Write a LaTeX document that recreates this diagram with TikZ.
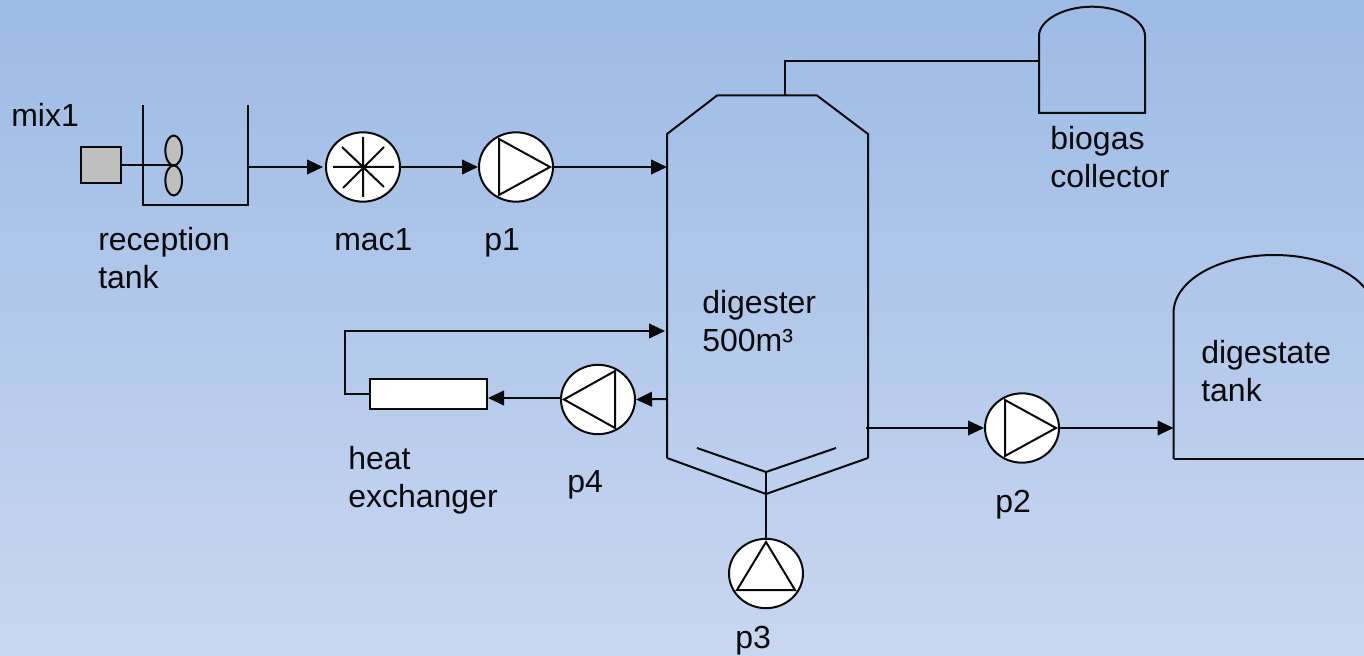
\documentclass[tikz,border=0pt]{standalone}
\usepackage{fontspec}
\setmainfont{Liberation Sans}
\usetikzlibrary{arrows.meta,shapes.geometric}
\definecolor{bgtop}{HTML}{9CBBE5}
\definecolor{bgbot}{HTML}{C9D7F0}
\definecolor{ink}{HTML}{0A0A0A}
\tikzset{
  x=0.75pt,y=-0.75pt,
  line/.style={line width=1.5pt,draw=ink},
  flow/.style={line width=1.5pt,draw=ink,-{Triangle[length=12pt,width=11pt]}},
  pumpbody/.style={ellipse,draw=ink,fill=white,line width=1.5pt,inner sep=0pt,minimum width=55.5pt,minimum height=52pt},
  glyph/.style={line width=1.5pt,draw=ink,line join=miter},
  bladebody/.style={ellipse,draw=ink,fill=black!25,line width=1.5pt,inner sep=0pt,minimum width=12.5pt,minimum height=22.5pt},
  label/.style={anchor=base west,inner sep=0pt,font=\fontsize{24}{28.5}\selectfont,text=ink,align=left,draw=none},
}
\begin{document}
\begin{tikzpicture}
\useasboundingbox (0,0) rectangle (1364,656);
\shade[top color=bgtop,bottom color=bgbot] (0,0) rectangle (1364,656);
\begin{scope}
\clip (0,0) rectangle (1364,656);

% reception tank
\coordinate (tankTL) at (143,105);
\coordinate (tankBL) at (143,205);
\coordinate (tankBR) at (248,205);
\coordinate (tankTR) at (248,105);
\coordinate (tankOut) at (248,167);
\draw[line] (tankTL) -- (tankBL) -- (tankBR) -- (tankTR);
% mixer
\node[draw=ink,fill=black!25,line width=1.5pt,minimum width=29.5pt,minimum height=27pt,inner sep=0pt] (motor) at (101,165.5) {};
\node[bladebody] (bladeA) at (173.7,150.5) {};
\node[bladebody] (bladeB) at (173.7,180.5) {};
\draw[line] (motor.east) -- (motor.east -| bladeA.south);

% macerator
\node[pumpbody] (mac1) at (363,167) {};
\draw[glyph] (333,167) -- (394,167) (363,137) -- (363,197) (342,147) -- (384,187) (384,147) -- (343,188);

% p1
\node[pumpbody] (p1) at (516,167) {};
\draw[glyph] (499,139) -- (499,195) -- (550,167) -- cycle;

% digester
\coordinate (dTop) at (785,95.5);
\coordinate (dIn1) at (667,167);
\coordinate (dIn2) at (667,331);
\coordinate (dOut4) at (667,399);
\coordinate (dOut2) at (866,428);
\coordinate (dBase) at (766,494);
\coordinate (dInner) at (766,472);
\draw[line,line join=miter] (667,458) -- (667,134) -- (717,95.5) -- (817,95.5) -- (868,134) -- (868,458);
\draw[line] (667,458) -- (dBase) -- (868,458);
\draw[line] (697,448) -- (dInner) -- (836,448);

% biogas collector
\coordinate (gasIn) at (1039,61);
\draw[line] (1039,36) .. controls (1039,20.5) and (1063,6.7) .. (1092,6.7) .. controls (1121,6.7) and (1145,20.5) .. (1145,36) -- (1145,113) -- (1039,113) -- cycle;
\coordinate (gasBend) at (785,61);
\draw[line] (dTop) -- (gasBend) -- (gasIn);

% digestate tank
\coordinate (dtIn) at (1173.5,428);
\draw[line] (1173.5,459) -- (1173.5,313) .. controls (1173.5,281) and (1218,255) .. (1274,255) .. controls (1330,255) and (1374.5,281) .. (1374.5,313);
\draw[line] (1173.5,459) -- (1364,459);

% p2
\node[pumpbody] (p2) at (1022,428) {};
\draw[glyph] (1005,400) -- (1005,456) -- (1056,428) -- cycle;

% p3
\node[pumpbody] (p3) at (766,573.5) {};
\draw[glyph] (766,542) -- (795,590) -- (737,590) -- cycle;

% p4
\node[pumpbody] (p4) at (598,399.5) {};
\draw[glyph] (564,399.5) -- (615,371) -- (615,428) -- cycle;

% heat exchanger
\node[draw=ink,fill=white,line width=1.5pt,minimum width=87.5pt,minimum height=22.5pt,inner sep=0pt] (hx) at (428.5,394) {};
\coordinate (hxIn) at (488,398);
\coordinate (retA) at (345,394);
\coordinate (retB) at (345,331);

% connectors
\draw[flow,shorten >=1.5pt] (tankOut) -- (mac1.west);
\draw[flow] (mac1.east) -- (p1.west);
\draw[flow] (p1.east) -- (dIn1);
\draw[flow] (dOut2) -- (p2.west);
\draw[flow] (p2.east) -- (dtIn);
\draw[line] (dBase) -- (p3.north);
\draw[line] (dInner) -- (dBase);
\draw[flow] (dOut4) -- (p4.east);
\draw[flow] (p4.west |- hxIn) -- (hxIn);
\draw[flow,shorten >=1.5pt,line join=miter] (hx.west) -- (retA) -- (retB) -- (dIn2);

\end{scope}

% labels
\node[label] (lmix) at (11,127) {mix1};
\node[label] (lrec) at (98,288) {reception\\tank};
\node[label] (lmac) at (334,250) {mac1};
\node[label] (lp1) at (484,250) {p1};
\node[label] (ldig) at (702,351) {digester\\500m³};
\node[label] (lhx) at (348,507) {heat\\exchanger};
\node[label] (lp4) at (567,492) {p4};
\node[label] (lp2) at (995,512) {p2};
\node[label] (lp3) at (735,648.5) {p3};
\node[label] (lbio) at (1050,187.5) {biogas\\collector};
\node[label] (ldt) at (1201,401) {digestate\\tank};
\end{tikzpicture}
\end{document}
